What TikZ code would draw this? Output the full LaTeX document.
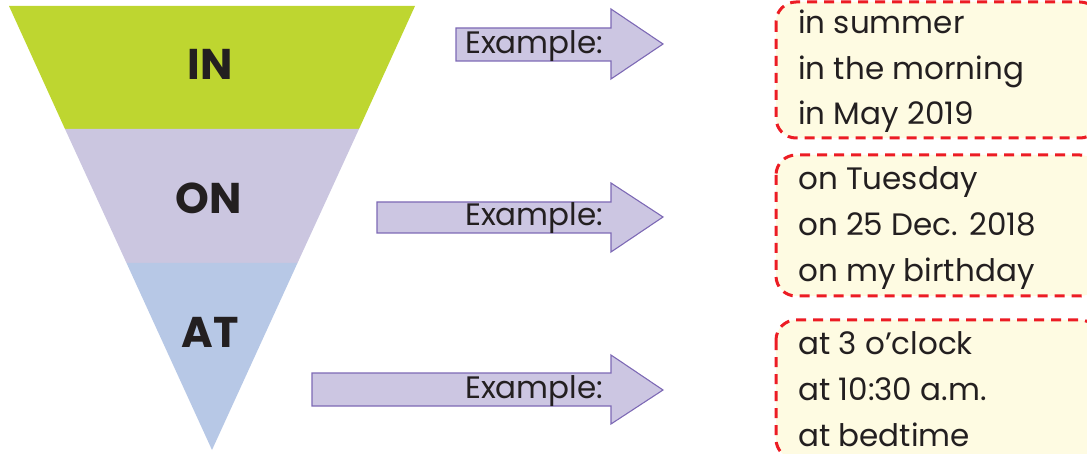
\documentclass[tikz,border=0pt]{standalone}
\usepackage{fontspec}
\setmainfont{Poppins}
\definecolor{bandIn}{HTML}{BED630}
\definecolor{bandOn}{HTML}{CBC6E0}
\definecolor{bandAt}{HTML}{B7C8E6}
\definecolor{arrowFill}{HTML}{CCC6E2}
\definecolor{arrowLine}{HTML}{7D69B5}
\definecolor{noteFill}{HTML}{FEFBE2}
\definecolor{noteLine}{HTML}{EC1C24}
\definecolor{ink}{HTML}{231F20}
\tikzset{
  prep/.style={font=\fontsize{43}{43}\selectfont\bfseries, text=ink, inner sep=0pt},
  pointer/.style={fill=arrowFill, draw=arrowLine, line width=1.1pt, line join=miter},
  exlabel/.style={font=\fontsize{31}{31}\selectfont, text=ink, inner sep=0pt, anchor=base west},
  note/.style={fill=noteFill, draw=noteLine, line width=3pt, dash pattern=on 10pt off 7pt, rounded corners=20pt},
  noteline/.style={font=\fontsize{31}{31}\selectfont, text=ink, inner sep=0pt, anchor=base west}
}
\begin{document}
\begin{tikzpicture}[x=1pt, y=-1pt]
\useasboundingbox (0,0) rectangle (1087,454);

% inverted triangle in three bands
\fill[bandIn] (9,6) -- (415,6) -- (359,129) -- (65,129) -- cycle;
\fill[bandOn] (65,129) -- (359,129) -- (297.5,263) -- (126.5,263) -- cycle;
\fill[bandAt] (126.5,263) -- (297.5,263) -- (212,450) -- cycle;

\node[prep] (in) at (210,64) {IN};
\node[prep] (on) at (209,198) {ON};
\node[prep] (at) at (210,332) {AT};

% block arrows
\draw[pointer] (456,28) -- (611,28) -- (611,9) -- (663,44) -- (611,79) -- (611,61) -- (456,61) -- cycle;
\draw[pointer] (377,202) -- (611,202) -- (611,183) -- (663,217) -- (611,252) -- (611,233) -- (377,233) -- cycle;
\draw[pointer] (312,373) -- (611,373) -- (611,355) -- (663,390) -- (611,424) -- (611,406) -- (312,406) -- cycle;

\node[exlabel] (ex1) at (465,54) {Example:};
\node[exlabel] (ex2) at (465,226) {Example:};
\node[exlabel] (ex3) at (465,398) {Example:};

% example boxes
\draw[note] (776,2) rectangle (1100,138);
\draw[note] (776,155) rectangle (1100,296);
\draw[note] (776,320) rectangle (1100,459);

\node[noteline] (a1) at (798,34) {in summer};
\node[noteline] (a2) at (798,80) {in the morning};
\node[noteline] (a3) at (798,125) {in May 2019};

\node[noteline] (b1) at (798,190) {on Tuesday};
\node[noteline] (b2) at (798,236) {on 25 Dec. 2018};
\node[noteline] (b3) at (798,282) {on my birthday};

\node[noteline] (c1) at (798,354) {at 3 o’clock};
\node[noteline] (c2) at (798,400) {at 10:30 a.m.};
\node[noteline] (c3) at (798,446) {at bedtime};
\end{tikzpicture}
\end{document}
